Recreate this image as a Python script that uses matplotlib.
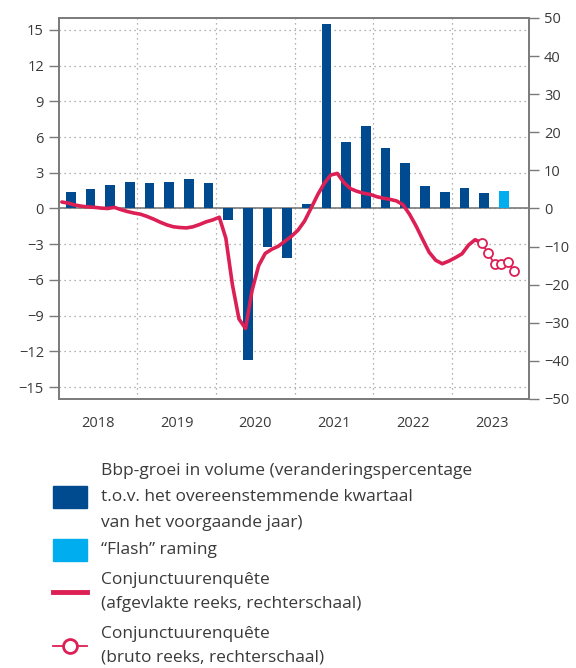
import matplotlib
matplotlib.use("Agg")
import matplotlib.pyplot as plt
from matplotlib.patches import Rectangle
from matplotlib.lines import Line2D

plt.rcParams['font.family'] = ['Open Sans', 'DejaVu Sans']

# Kwartaalgegevens: bbp-groei (% t.o.v. zelfde kwartaal vorig jaar)
bar_years = [2018] * 4 + [2019] * 4 + [2020] * 4 + [2021] * 4 + [2022] * 4 + [2023] * 2
bar_quarters = [1, 2, 3, 4] * 5 + [1, 2]
gdp = [1.4, 1.6, 2.0, 2.2,
       2.1, 2.2, 2.5, 2.1,
       -1.0, -12.7, -3.2, -4.2,
       0.4, 15.5, 5.6, 6.9,
       5.1, 3.8, 1.9, 1.4,
       1.7, 1.3]
flash_year, flash_quarter, flash_val = 2023, 3, 1.5

# Conjunctuurenquete, afgevlakte reeks (maandelijks, jan 2018 - mei 2023)
smooth_start = 2018
smooth = [1.7, 1.4, 0.9, 0.6, 0.4, 0.3, 0.1, 0.0, 0.3, -0.3, -0.8, -1.2,
          -1.5, -2.1, -2.8, -3.6, -4.3, -4.8, -5.0, -5.1, -4.8, -4.2, -3.5, -3.0,
          -2.3, -7.8, -20.0, -29.0, -31.5, -21.5, -15.0, -11.8, -10.7, -9.9, -8.6, -7.3,
          -5.7, -3.3, 0.1, 3.6, 6.6, 8.8, 9.2, 6.8, 5.2, 4.5, 4.0, 3.7,
          3.1, 2.7, 2.4, 2.0, 1.0, -1.5, -4.6, -8.1, -11.5, -13.6, -14.5, -13.8,
          -12.9, -11.9, -9.6, -8.2, -9.0]

# bruto reeks (mei - okt 2023)
raw_months = [5, 6, 7, 8, 9, 10]
raw = [-9.0, -11.8, -14.7, -14.7, -14.0, -16.5]

years = [2018, 2019, 2020, 2021, 2022, 2023]

dark_blue = '#004a8f'
light_blue = '#00aeef'
red = '#dc1f55'
txt = '#3a3a3a'
gray = '#7a7a7a'


def qpos(y, q):
    return y + (q - 1) / 4 + 0.155


def mpos(y, m):
    return y + (m - 0.5) / 12


fig = plt.figure(figsize=(5.76, 6.68), dpi=100)
ax = fig.add_axes([0.1017, 0.4027, 0.8172, 0.5704])
ax2 = ax.twinx()

bx = [qpos(y, q) for y, q in zip(bar_years, bar_quarters)]
ax.bar(bx, gdp, width=0.123, color=dark_blue, zorder=3)
ax.bar([qpos(flash_year, flash_quarter)], [flash_val], width=0.123, color=light_blue, zorder=3)

sx = [mpos(smooth_start + i // 12, i % 12 + 1) for i in range(len(smooth))]
ax2.plot(sx, smooth, color=red, lw=2.6, solid_capstyle='round', solid_joinstyle='round', zorder=4)
rx = [mpos(2023, m) for m in raw_months]
ax2.plot(rx, raw, color=red, lw=1.3, marker='o', ms=6.5, mfc='white', mec=red, mew=1.3, zorder=5)

ax.set_xlim(2018, 2023.98)
ax.set_ylim(-16, 16)
ax2.set_ylim(-50, 50)
ax.set_yticks(range(-15, 16, 3))
ax2.set_yticks(range(-50, 51, 10))

ax.set_xticks(years[1:])
ax.set_xticklabels([])
ax.set_xticks([y + 0.5 for y in years], minor=True)
ax.set_xticklabels([str(y) for y in years], minor=True)
ax.tick_params(axis='x', which='both', length=0, labelsize=10.5, colors=txt, pad=12)
ax.tick_params(axis='y', length=7, width=1, color=gray, labelsize=10.5, labelcolor=txt)
ax2.tick_params(axis='y', length=7, width=1, color=gray, labelsize=10.5, labelcolor=txt)

ax.grid(True, which='major', axis='both', color='#999999', ls=(0, (1, 3)), lw=0.9)
ax.axhline(0, color=gray, lw=1.2, zorder=2)
ax.set_axisbelow(True)
for a in (ax, ax2):
    for s in a.spines.values():
        s.set_color(gray)
        s.set_linewidth(1.2)

# legenda
lax = fig.add_axes([0, 0, 1, 1], zorder=-1)
lax.set_xlim(0, 576)
lax.set_ylim(668, 0)
lax.axis('off')
fs = 12.5
lax.add_patch(Rectangle((53, 486), 34, 22, color=dark_blue))
lax.text(101, 497, "Bbp-groei in volume (veranderingspercentage\nt.o.v. het overeenstemmende kwartaal\nvan het voorgaande jaar)",
         va='center', ha='left', fontsize=fs, color=txt, linespacing=1.85)
lax.add_patch(Rectangle((53, 539), 34, 22, color=light_blue))
lax.text(101, 550, "\u201cFlash\u201d raming", va='center', ha='left', fontsize=fs, color=txt)
lax.add_line(Line2D([53, 87], [592, 592], color=red, lw=3.5))
lax.text(101, 592, "Conjunctuurenqu\u00eate\n(afgevlakte reeks, rechterschaal)",
         va='center', ha='left', fontsize=fs, color=txt, linespacing=1.65)
lax.add_line(Line2D([53, 87], [646, 646], color=red, lw=1.3))
lax.add_line(Line2D([70], [646], marker='o', ms=10, mfc='white', mec=red, mew=2))
lax.text(101, 646, "Conjunctuurenqu\u00eate\n(bruto reeks, rechterschaal)",
         va='center', ha='left', fontsize=fs, color=txt, linespacing=1.65)

fig.savefig('out.png', dpi=100)
